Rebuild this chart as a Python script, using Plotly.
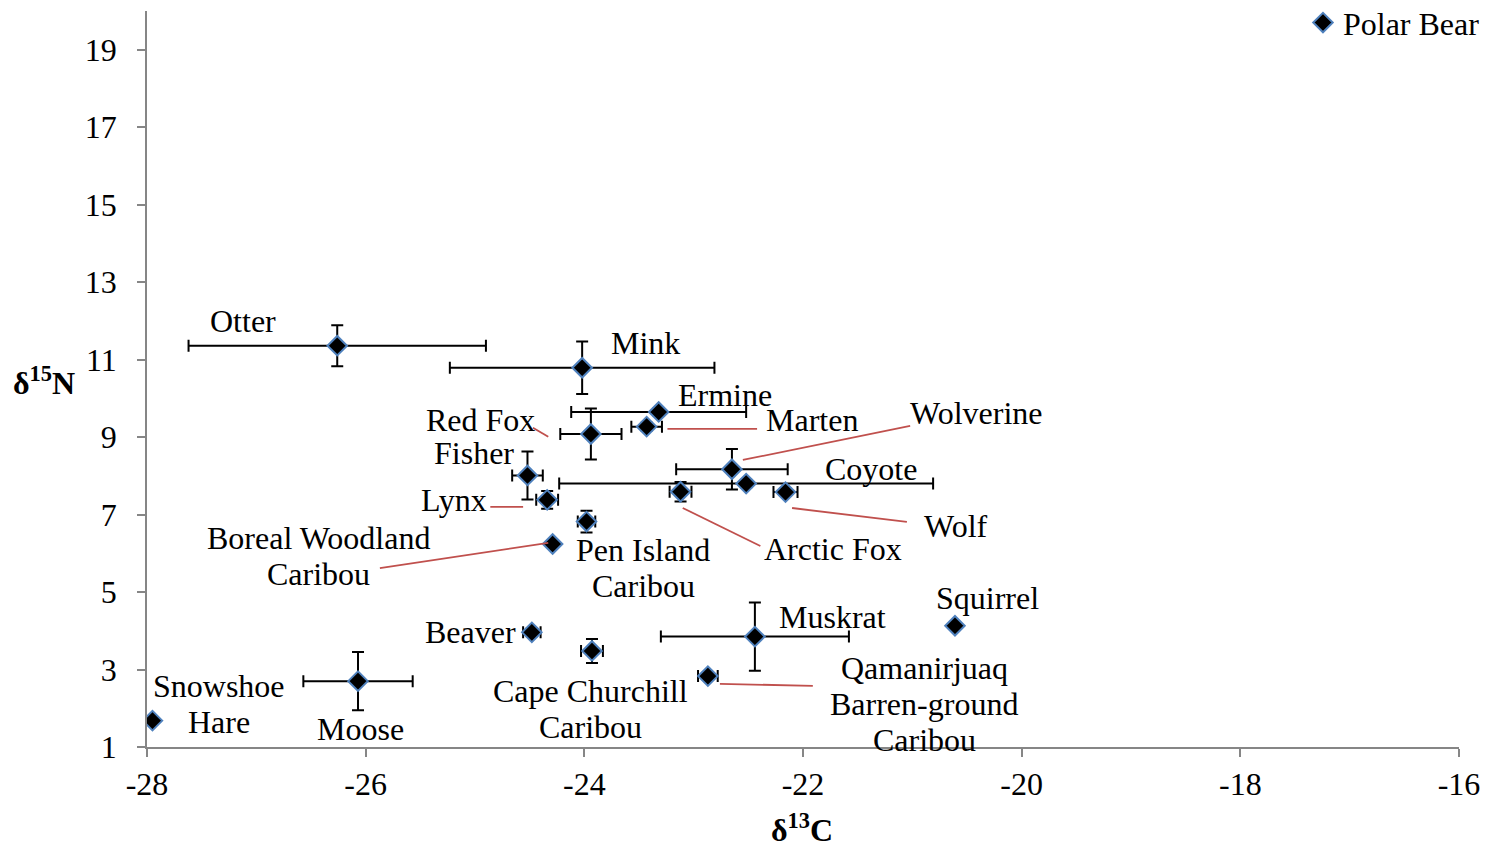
import plotly.graph_objects as go

# ---- data ----
species = ["Otter", "Mink", "Ermine", "Marten", "Red Fox", "Fisher", "Wolverine",
           "Coyote", "Lynx", "Arctic Fox", "Wolf", "Pen Island Caribou",
           "Boreal Woodland Caribou", "Squirrel", "Beaver", "Muskrat",
           "Cape Churchill Caribou", "Qamanirjuaq Barren-ground Caribou",
           "Moose", "Snowshoe Hare"]
d13C = [-26.26, -24.02, -23.32, -23.43, -23.94, -24.52, -22.65,
        -22.52, -24.34, -23.12, -22.16, -23.98,
        -24.29, -20.61, -24.48, -22.44,
        -23.93, -22.87, -26.07, -27.95]
d15N = [11.36, 10.79, 9.65, 9.27, 9.08, 8.01, 8.17,
        7.80, 7.38, 7.59, 7.58, 6.82,
        6.24, 4.13, 3.96, 3.85,
        3.48, 2.83, 2.70, 1.68]
sd13C = [1.36, 1.21, 0.80, 0.14, 0.28, 0.14, 0.51,
         1.71, 0.10, 0.10, 0.11, 0.08,
         0.0, 0.0, 0.08, 0.86,
         0.10, 0.09, 0.50, 0.0]
sd15N = [0.53, 0.68, 0.10, 0.10, 0.66, 0.62, 0.52,
         0.10, 0.23, 0.25, 0.10, 0.28,
         0.0, 0.0, 0.10, 0.88,
         0.31, 0.10, 0.75, 0.0]

series_name = "Polar Bear"
x_ticks = [-28, -26, -24, -22, -20, -18, -16]
y_ticks = [1, 3, 5, 7, 9, 11, 13, 15, 17, 19]

# label lines and their placement (layout)
label_lines = {
    "Otter": ["Otter"], "Mink": ["Mink"], "Ermine": ["Ermine"], "Marten": ["Marten"],
    "Red Fox": ["Red Fox"], "Fisher": ["Fisher"], "Wolverine": ["Wolverine"],
    "Coyote": ["Coyote"], "Lynx": ["Lynx"], "Arctic Fox": ["Arctic Fox"], "Wolf": ["Wolf"],
    "Pen Island Caribou": ["Pen Island", "Caribou"],
    "Boreal Woodland Caribou": ["Boreal Woodland", "Caribou"],
    "Squirrel": ["Squirrel"], "Beaver": ["Beaver"], "Muskrat": ["Muskrat"],
    "Cape Churchill Caribou": ["Cape Churchill", "Caribou"],
    "Qamanirjuaq Barren-ground Caribou": ["Qamanirjuaq", "Barren-ground", "Caribou"],
    "Moose": ["Moose"], "Snowshoe Hare": ["Snowshoe", "Hare"],
}
label_pos = {
    "Otter": (-27.12, 12.00), "Mink": (-23.445, 11.43), "Ermine": (-22.71, 10.09),
    "Marten": (-21.92, 9.44), "Red Fox": (-24.95, 9.44), "Fisher": (-25.01, 8.59),
    "Wolverine": (-20.42, 9.63), "Coyote": (-21.38, 8.18), "Lynx": (-25.19, 7.38),
    "Arctic Fox": (-21.73, 6.11), "Wolf": (-20.60, 6.71),
    "Pen Island Caribou": (-23.46, 5.61), "Boreal Woodland Caribou": (-26.43, 5.93),
    "Squirrel": (-20.31, 4.85), "Beaver": (-25.04, 3.97), "Muskrat": (-21.73, 4.36),
    "Cape Churchill Caribou": (-23.94, 1.97),
    "Qamanirjuaq Barren-ground Caribou": (-20.89, 2.11),
    "Moose": (-26.05, 1.46), "Snowshoe Hare": (-27.34, 2.12),
}
leaders = [
    ((-24.47, 9.24), (-24.33, 9.01)),
    ((-23.24, 9.21), (-22.42, 9.21)),
    ((-22.55, 8.41), (-21.02, 9.29)),
    ((-24.86, 7.20), (-24.56, 7.20)),
    ((-22.10, 7.17), (-21.05, 6.81)),
    ((-23.10, 7.17), (-22.39, 6.19)),
    ((-25.87, 5.62), (-24.33, 6.27)),
    ((-22.76, 2.63), (-21.91, 2.58)),
]

FONT = "Liberation Serif, Times New Roman, serif"
FS = 32
LINE_H = 36  # px between label lines

fig = go.Figure()
fig.add_trace(go.Scatter(
    x=d13C, y=d15N, mode="markers", name=series_name, showlegend=True,
    text=species,
    marker=dict(symbol="diamond", size=15, color="black",
                line=dict(color="#4F81BD", width=2)),
    error_x=dict(type="data", array=sd13C, color="black", thickness=2, width=6),
    error_y=dict(type="data", array=sd15N, color="black", thickness=2, width=6),
))

annotations = []
for sp in species:
    lines = label_lines[sp]
    lx, ly = label_pos[sp]
    n = len(lines)
    for i, t in enumerate(lines):
        annotations.append(dict(
            x=lx, y=ly, xref="x", yref="y", text=t, showarrow=False,
            xanchor="center", yanchor="middle",
            yshift=((n - 1) / 2 - i) * LINE_H,
            font=dict(family=FONT, size=FS, color="black")))

annotations.append(dict(xref="paper", yref="paper", x=-0.0785, y=0.497,
                        text="<b>δ<sup>15</sup>N</b>", showarrow=False,
                        xanchor="center", yanchor="middle",
                        font=dict(family=FONT, size=FS, color="black")))
annotations.append(dict(xref="paper", yref="paper", x=0.4992, y=-0.110,
                        text="<b>δ<sup>13</sup>C</b>", showarrow=False,
                        xanchor="center", yanchor="middle",
                        font=dict(family=FONT, size=FS, color="black")))

shapes = [dict(type="line", xref="x", yref="y", x0=a[0], y0=a[1], x1=b[0], y1=b[1],
               line=dict(color="#C0504D", width=1.8)) for a, b in leaders]

fig.update_layout(
    width=1485, height=844,
    margin=dict(l=147, r=26, t=11, b=97, autoexpand=False),
    paper_bgcolor="white", plot_bgcolor="white",
    font=dict(family=FONT, size=FS, color="black"),
    annotations=annotations, shapes=shapes,
    legend=dict(x=1.0198, y=0.984, xref="paper", yref="paper",
                xanchor="right", yanchor="middle",
                font=dict(family=FONT, size=FS, color="black"),
                bgcolor="rgba(0,0,0,0)", itemwidth=30),
    xaxis=dict(range=[-28, -16], tickvals=x_ticks, ticktext=[str(v) for v in x_ticks],
               showgrid=False, zeroline=False, showline=True, linecolor="#868686",
               linewidth=1.5, ticks="outside", ticklen=8, tickwidth=1.5,
               tickcolor="#868686", ticklabelstandoff=0,
               tickfont=dict(family=FONT, size=FS, color="black")),
    yaxis=dict(range=[1, 20], tickvals=y_ticks, ticktext=[str(v) for v in y_ticks],
               showgrid=False, zeroline=False, showline=True, linecolor="#868686",
               linewidth=1.5, ticks="outside", ticklen=8, tickwidth=1.5,
               tickcolor="#868686", ticklabelstandoff=14,
               tickfont=dict(family=FONT, size=FS, color="black")),
)

# remove the default 8px page margin so the figure fills the window exactly
fig.write_html("out.html", config={"displayModeBar": False},
               post_script="document.body.style.margin='0';document.body.style.overflow='hidden';")
